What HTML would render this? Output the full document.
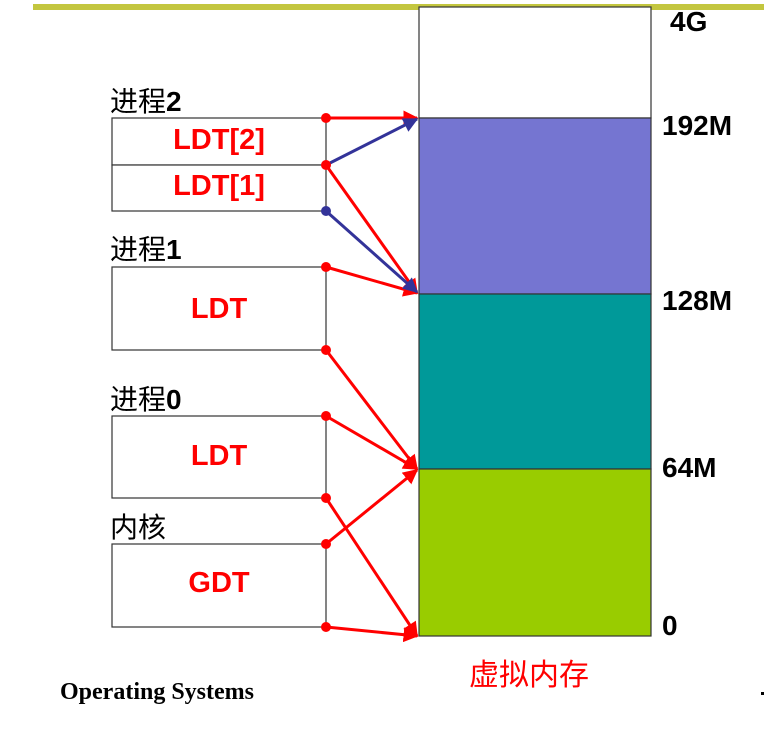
<!DOCTYPE html>
<html><head><meta charset="utf-8"><style>
body{margin:0;width:764px;height:730px;background:#fff;overflow:hidden;position:relative;font-family:"Liberation Sans","Noto Sans CJK SC",sans-serif}
.t{position:absolute;white-space:nowrap}
.l{left:112px;width:214px;text-align:center;font-size:29px;font-weight:bold;color:#f00}
.n{font-size:28px;font-weight:bold}
</style></head><body>
<div style="position:absolute;left:33px;top:4px;width:731px;height:6px;background:#c3c63f"></div>
<svg width="764" height="730" style="position:absolute;left:0;top:0">
<defs>
<marker id="ar" viewBox="0 0 10 10" refX="9" refY="5" markerWidth="5" markerHeight="5" orient="auto"><path d="M0,0L10,5L0,10z" fill="#f00"/></marker>
<marker id="ab" viewBox="0 0 10 10" refX="9" refY="5" markerWidth="5" markerHeight="5" orient="auto"><path d="M0,0L10,5L0,10z" fill="#333399"/></marker>
</defs>
<rect x="419" y="7" width="232" height="111" fill="#fff" stroke="#333" stroke-width="1.2"/>
<rect x="419" y="118" width="232" height="176" fill="#7575d1" stroke="#333" stroke-width="1.2"/>
<rect x="419" y="294" width="232" height="175" fill="#009999" stroke="#333" stroke-width="1.2"/>
<rect x="419" y="469" width="232" height="167" fill="#99cc00" stroke="#333" stroke-width="1.2"/>
<g fill="#fff" stroke="#333" stroke-width="1.2">
<rect x="112" y="118" width="214" height="47"/>
<rect x="112" y="165" width="214" height="46"/>
<rect x="112" y="267" width="214" height="83"/>
<rect x="112" y="416" width="214" height="82"/>
<rect x="112" y="544" width="214" height="83"/>
</g>
<g stroke="#f00" stroke-width="3" fill="none" marker-end="url(#ar)">
<line x1="326" y1="118" x2="417" y2="118"/>
<line x1="326" y1="165" x2="417" y2="293"/>
<line x1="326" y1="267" x2="417" y2="293"/>
<line x1="326" y1="350" x2="417" y2="469"/>
<line x1="326" y1="416" x2="417" y2="469"/>
<line x1="326" y1="544" x2="417" y2="470"/>
<line x1="326" y1="498" x2="417" y2="636"/>
<line x1="326" y1="627" x2="417" y2="636"/>
</g>
<g stroke="#333399" stroke-width="3" fill="none" marker-end="url(#ab)">
<line x1="326" y1="165" x2="417" y2="119"/>
<line x1="326" y1="211" x2="417" y2="292"/>
</g>
<g fill="#f00">
<circle cx="326" cy="118" r="5"/><circle cx="326" cy="165" r="5"/>
<circle cx="326" cy="267" r="5"/><circle cx="326" cy="350" r="5"/><circle cx="326" cy="416" r="5"/>
<circle cx="326" cy="498" r="5"/><circle cx="326" cy="544" r="5"/><circle cx="326" cy="627" r="5"/>
</g>
<circle cx="326" cy="211" r="5" fill="#333399"/>
<rect x="761" y="692" width="3" height="3" fill="#000"/>
</svg>
<div class="t" style="left:110px;top:80px;font-size:28px">进程<b>2</b></div>
<div class="t" style="left:110px;top:228px;font-size:28px">进程<b>1</b></div>
<div class="t" style="left:110px;top:378px;font-size:28px">进程<b>0</b></div>
<div class="t" style="left:110px;top:506px;font-size:28px">内核</div>
<div class="t l" style="top:124px">LDT[2]</div>
<div class="t l" style="top:170px">LDT[1]</div>
<div class="t l" style="top:293px">LDT</div>
<div class="t l" style="top:440px">LDT</div>
<div class="t l" style="top:567px">GDT</div>
<div class="t n" style="left:670px;top:6px">4G</div>
<div class="t n" style="left:662px;top:110px">192M</div>
<div class="t n" style="left:662px;top:285px">128M</div>
<div class="t n" style="left:662px;top:452px">64M</div>
<div class="t n" style="left:662px;top:610px">0</div>
<div class="t" style="left:469px;top:650px;font-size:30px;color:#f00;font-family:'Noto Sans CJK SC',sans-serif">虚拟内存</div>
<div class="t" style="left:60px;top:679px;font-size:24px;font-weight:bold;font-family:'Liberation Serif',serif">Operating Systems</div>
</body></html>
